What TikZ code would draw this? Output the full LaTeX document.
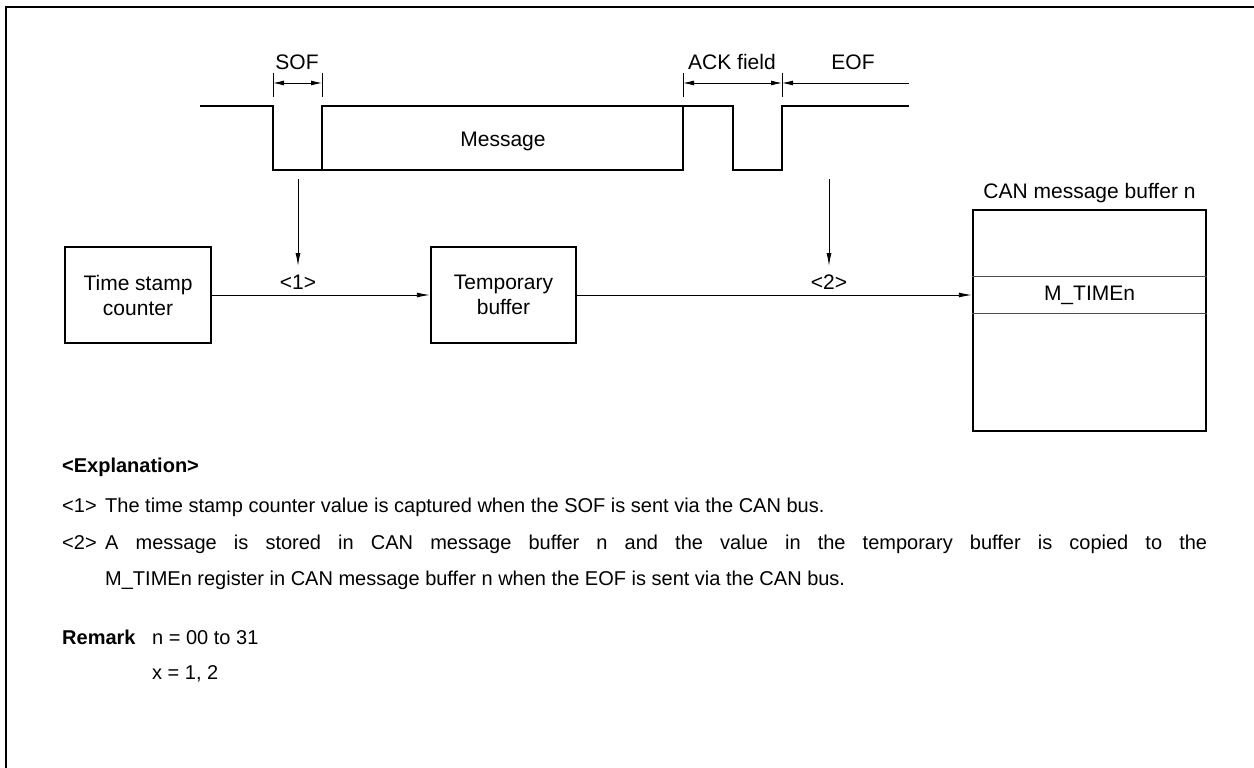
\documentclass[tikz,border=0pt]{standalone}
\usepackage{fontspec}
\setmainfont{Liberation Sans}
\usetikzlibrary{arrows.meta}
\begin{document}
\begin{tikzpicture}[x=1pt,y=-1pt,
  every node/.style={font=\fontsize{21}{25}\selectfont, inner sep=0pt},
  txt/.style={font=\fontsize{20}{24}\selectfont},
  bold txt/.style={font=\fontsize{20}{24}\selectfont\bfseries},
  thick box/.style={draw, line width=2.4pt, rectangle},
  wave/.style={line width=2.4pt, line join=miter},
  conn/.style={line width=0.9pt, -{Latex[length=13pt,width=5pt]}},
  dim/.style={line width=0.9pt, {Latex[length=11pt,width=5pt]}-{Latex[length=11pt,width=5pt]}},
  tick/.style={line width=0.9pt},
  inner/.style={line width=0.9pt, draw=black!70}]
\useasboundingbox (0,0) rectangle (1254,768);
\fill[white] (0,0) rectangle (1254,768);
% outer frame
\draw[line width=2.4pt] (6,780) -- (6,7) -- (1270,7);

% waveform
\draw[wave] (200,106) -- (273,106) -- (273,170) -- (322,170);
\draw[wave] (322,106) rectangle (683,170);
\draw[wave] (683,106) -- (733,106) -- (733,170) -- (782,170) -- (782,106) -- (909,106);
\node (msg) at (503,141) {Message};

% dimension marks
\coordinate (s1a) at (273,73); \coordinate (s1b) at (273,97);
\coordinate (s2a) at (322,73); \coordinate (s2b) at (322,97);
\coordinate (a1a) at (683,73); \coordinate (a1b) at (683,97);
\coordinate (a2a) at (782,73); \coordinate (a2b) at (782,97);
\draw[tick] (s1a) -- (s1b); \draw[tick] (s2a) -- (s2b);
\draw[tick] (a1a) -- (a1b); \draw[tick] (a2a) -- (a2b);
\coordinate (sofL) at (273,83); \coordinate (sofR) at (322,83);
\coordinate (ackL) at (683,83); \coordinate (ackR) at (782,83);
\coordinate (eofR) at (909,83);
\draw[dim] (sofL) -- (sofR);
\draw[dim] (ackL) -- (ackR);
\draw[line width=0.9pt, -{Latex[length=11pt,width=5pt]}] (eofR) -- (ackR);
\node (sof) at (297,62) {SOF};
\node (ack) at (732,62) {ACK field};
\node (eof) at (853,62) {EOF};

% blocks
\node[thick box, minimum width=146pt, minimum height=96pt, align=center] (tsc) at (138,295) {Time stamp\\[0pt]counter};
\node[thick box, minimum width=145pt, minimum height=96pt, align=center] (tmp) at (503.5,295) {Temporary\\[0pt]buffer};
\node[thick box, minimum width=233pt, minimum height=221pt] (can) at (1089.5,320.5) {};
\draw[inner] (can.west |- 0,276) -- (can.east |- 0,276);
\draw[inner] (can.west |- 0,313) -- (can.east |- 0,313);
\node (mtime) at (1089.5,295) {M\_TIMEn};
\node (cantitle) at (1089.5,193) {CAN message buffer n};

% connectors
\coordinate (v1top) at (298,179); \coordinate (v1bot) at (298,266);
\coordinate (v2top) at (829,179); \coordinate (v2bot) at (829,266);
\draw[conn] (v1top) -- (v1bot);
\draw[conn] (v2top) -- (v2bot);
\coordinate (canin) at (can.west |- 0,295);
\draw[conn] (tsc.east) -- (tmp.west);
\draw[conn] (tmp.east) -- (canin);
\node (l1) at (298,282) {<1>};
\node (l2) at (829,282) {<2>};

% explanation
\node[anchor=base west, bold txt] (expl) at (62,472) {<Explanation>};
\node[anchor=base west, txt] (e1n) at (62,512) {<1>};
\node[anchor=base west, txt] (e1t) at (105,512) {The time stamp counter value is captured when the SOF is sent via the CAN bus.};
\node[anchor=base west, txt] (e2n) at (62,549) {<2>};
\node[anchor=base west, text width=1102pt, align=justify, font=\fontsize{20}{36}\selectfont] (e2t) at (105,549) {A message is stored in CAN message buffer n and the value in the temporary buffer is copied to the\linebreak M\_TIMEn register in CAN message buffer n when the EOF is sent via the CAN bus.};
\node[anchor=base west, bold txt] (rem) at (62,644) {Remark};
\node[anchor=base west, txt] (r1) at (152,644) {n = 00 to 31};
\node[anchor=base west, txt] (r2) at (152,679) {x = 1, 2};
\end{tikzpicture}
\end{document}
